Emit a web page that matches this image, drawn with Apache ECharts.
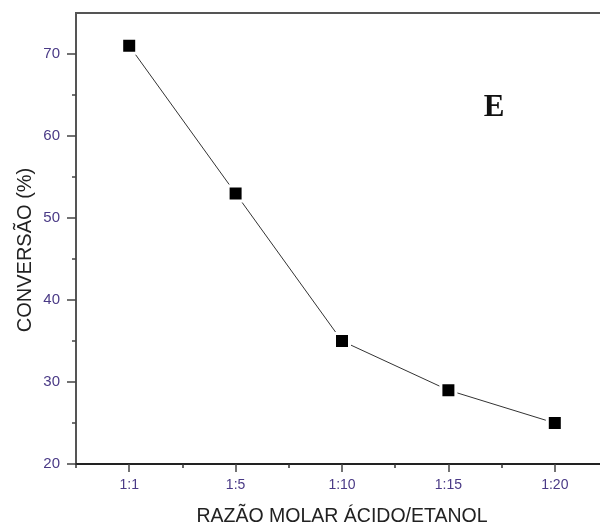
<!DOCTYPE html>
<html>
<head>
<meta charset="utf-8">
<script src="https://cdn.jsdelivr.net/npm/echarts@6/dist/echarts.min.js"></script>
<style>html,body{margin:0;padding:0;background:#fff;overflow:hidden;width:600px;height:525px}#c{width:608px;height:525px}</style>
</head>
<body>
<div id="c"></div>
<script>
var categories = ['1:1', '1:5', '1:10', '1:15', '1:20'];
var conversion = [71, 53, 35, 29, 25];
var categoryIndex = [0, 1, 2, 3, 4];
var categoryBounds = [-0.5, 0.5, 1.5, 2.5, 3.5, 4.5];
var yMajorTicks = [20, 30, 40, 50, 60, 70];
var yMinorTicks = [25, 35, 45, 55, 65];
var xTitle = 'RAZÃO MOLAR ÁCIDO/ETANOL';
var yTitle = 'CONVERSÃO (%)';
var panelLabel = 'E';

var seriesData = categoryIndex.map(function (i) { return [i, conversion[i]]; });
var labelColor = '#4a3a86';
var chart = echarts.init(document.getElementById('c'), null, {renderer: 'canvas', width: 608, height: 525});
chart.setOption({
  animation: false,
  backgroundColor: '#fff',
  grid: {left: 76, right: 0, top: 13, bottom: 61, outerBoundsMode: 'none', containLabel: false,
    show: true, borderColor: '#555', borderWidth: 2, backgroundColor: 'transparent'},
  xAxis: [{
    type: 'value', min: -0.5, max: 4.5, position: 'bottom',
    axisLine: {show: true, onZero: false, lineStyle: {color: '#222', width: 2}},
    axisTick: {show: true, length: 8, customValues: categoryIndex, lineStyle: {color: '#444', width: 1.5}},
    axisLabel: {color: labelColor, fontFamily: 'Arial, Liberation Sans', fontSize: 14, margin: 14,
      customValues: categoryIndex, formatter: function (v) { return categories[Math.round(v)]; }},
    splitLine: {show: false},
    name: xTitle, nameLocation: 'middle', nameGap: 43,
    nameTextStyle: {color: '#222', fontFamily: 'Arial, Liberation Sans', fontSize: 19.5}
  }, {
    type: 'value', min: -0.5, max: 4.5, position: 'bottom',
    axisLine: {show: false, onZero: false},
    axisTick: {show: true, length: 4, customValues: categoryBounds, lineStyle: {color: '#333', width: 1.5}},
    axisLabel: {show: false, customValues: categoryBounds}, splitLine: {show: false}
  }],
  yAxis: [{
    type: 'value', min: 20, max: 75,
    axisLine: {show: true, onZero: false, lineStyle: {color: '#555', width: 2}},
    axisTick: {show: true, length: 9, customValues: yMajorTicks, lineStyle: {color: '#444', width: 1.5}},
    axisLabel: {color: labelColor, fontFamily: 'Arial, Liberation Sans', fontSize: 15, margin: 16, customValues: yMajorTicks},
    splitLine: {show: false}
  }, {
    type: 'value', min: 20, max: 75, position: 'left',
    axisLine: {show: false, onZero: false},
    axisTick: {show: true, length: 4, customValues: yMinorTicks, lineStyle: {color: '#444', width: 1.5}},
    axisLabel: {show: false}, splitLine: {show: false}
  }],
  graphic: [{
    type: 'text', x: 25, y: 250, rotation: Math.PI / 2,
    style: {text: yTitle, fill: '#222', font: '20px Arial, "Liberation Sans"', textAlign: 'center', textVerticalAlign: 'middle'}
  }, {
    type: 'text', x: 494, y: 108,
    style: {text: panelLabel, fill: '#111', font: 'bold 31px "Liberation Serif", "Times New Roman", serif', textAlign: 'center', textVerticalAlign: 'middle'}
  }],
  series: [{
    type: 'line', data: seriesData, xAxisIndex: 0, yAxisIndex: 0,
    symbol: 'rect', symbolSize: 15,
    lineStyle: {color: '#333', width: 1},
    itemStyle: {color: '#000', borderColor: '#fff', borderWidth: 3}
  }]
});
</script>
</body>
</html>
